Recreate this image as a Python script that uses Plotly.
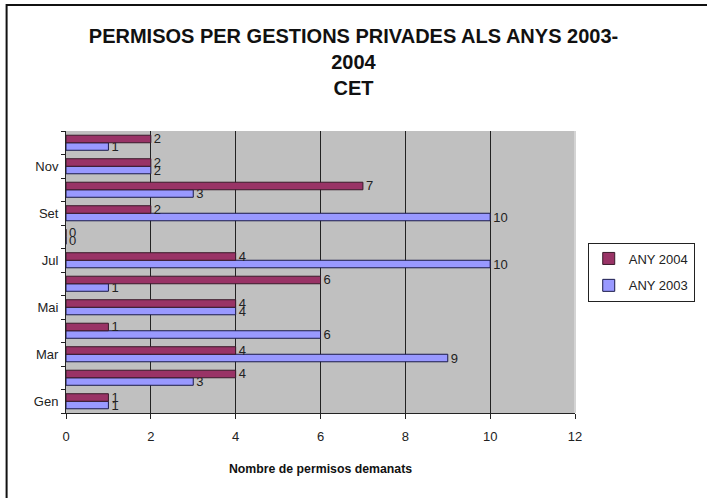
import plotly.graph_objects as go

months = ["Gen", "Feb", "Mar", "Abr", "Mai", "Jun", "Jul", "Ago", "Set", "Oct", "Nov", "Des"]
shown_labels = ["Gen", "", "Mar", "", "Mai", "", "Jul", "", "Set", "", "Nov", ""]
any_2004 = [1, 4, 4, 1, 4, 6, 4, 0, 2, 7, 2, 2]
any_2003 = [1, 3, 9, 6, 4, 1, 10, 0, 10, 3, 2, 1]
x_ticks = [0, 2, 4, 6, 8, 10, 12]

FONT = "Liberation Sans, Arial, sans-serif"

fig = go.Figure()
fig.add_trace(go.Bar(
    name="ANY 2003", y=months, x=any_2003, orientation="h",
    legendgroup="g2003", legendrank=2,
    marker=dict(color="#9999FF", line=dict(color="#1a1a4a", width=1)),
    text=any_2003, textposition="outside", cliponaxis=False,
    constraintext="none",
    textfont=dict(family=FONT, size=13, color="#222222"),
))
fig.add_trace(go.Bar(
    name="ANY 2004", y=months, x=any_2004, orientation="h",
    legendgroup="g2004", legendrank=1,
    marker=dict(color="#993366", line=dict(color="#3a1a2a", width=1)),
    text=any_2004, textposition="outside", cliponaxis=False,
    constraintext="none",
    textfont=dict(family=FONT, size=13, color="#222222"),
))

fig.update_layout(
    width=707, height=498,
    margin=dict(l=66, r=127, t=131, b=85),
    paper_bgcolor="white",
    plot_bgcolor="#C0C0C0",
    barmode="group",
    bargap=0.36,
    bargroupgap=0,
    font=dict(family=FONT, size=13, color="#222222"),
    title=dict(
        text="PERMISOS PER GESTIONS PRIVADES ALS ANYS 2003-<br>2004<br>CET",
        x=0.5, xanchor="center", y=0.913, yanchor="top",
        font=dict(family=FONT, size=20, color="#111111", weight="bold"),
    ),
    legend=dict(
        x=1.025, xanchor="left", y=0.5, yanchor="middle",
        traceorder="grouped", tracegroupgap=7,
        bordercolor="#222222", borderwidth=1, bgcolor="white",
        font=dict(family=FONT, size=13, color="#222222"),
    ),
    xaxis=dict(
        range=[0, 12], tickvals=x_ticks, ticks="outside", ticklen=5,
        tickcolor="#222222", showline=True, linecolor="#222222", linewidth=1,
        showgrid=True, gridcolor="#222222", gridwidth=1.2,
        zeroline=False, ticklabelstandoff=6,
        title=dict(text="<b>Nombre de permisos demanats</b>", standoff=21,
                   font=dict(family=FONT, size=12.3, color="#111111")),
        tickfont=dict(family=FONT, size=13, color="#222222"),
    ),
    yaxis=dict(
        categoryorder="array", categoryarray=months,
        tickvals=months, ticktext=shown_labels,
        tickson="boundaries", ticks="outside", ticklen=4, tickcolor="#222222",
        showline=True, linecolor="#222222", linewidth=1,
        showgrid=False, zeroline=False, ticklabelstandoff=4,
        tickfont=dict(family=FONT, size=13, color="#222222"),
    ),
)

# light right edge of the plot area (covers the grid line at the range end)
fig.add_shape(type="line", xref="paper", yref="paper",
              x0=1, x1=1, y0=0, y1=1,
              line=dict(color="#D4D4D4", width=2), layer="above")

fig.add_shape(type="rect", xref="paper", yref="paper",
              x0=-0.1167, x1=1.3, y0=-0.4, y1=1.447,
              line=dict(color="#111111", width=2), fillcolor="rgba(0,0,0,0)",
              layer="above")

fig.write_html("out.html", config={"displayModeBar": False},
               post_script="document.body.style.margin='0';")
